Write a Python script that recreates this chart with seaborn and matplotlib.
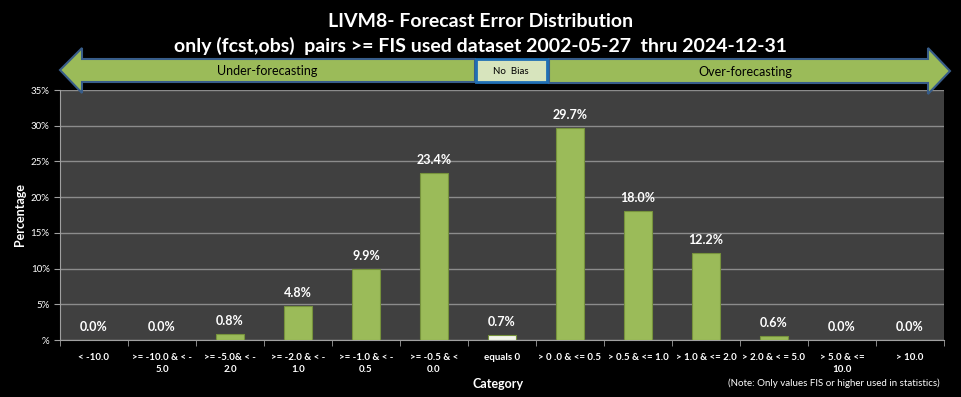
import matplotlib
matplotlib.use('Agg')
import matplotlib.pyplot as plt
import seaborn as sns
import pandas as pd
from matplotlib.patches import Polygon, Rectangle

categories = ['< -10.0', '>= -10.0 & < -\n5.0', '>= -5.0& < -\n2.0', '>= -2.0 & < -\n1.0',
              '>= -1.0 & < -\n0.5', '>= -0.5 & <\n0.0', 'equals 0', '> 0 .0 & <= 0.5',
              '> 0.5 & <= 1.0', '> 1.0 & <= 2.0', '> 2.0 & < = 5.0', '> 5.0 & <=\n10.0', '> 10.0']
percent = [0.0, 0.0, 0.8, 4.8, 9.9, 23.4, 0.7, 29.7, 18.0, 12.2, 0.6, 0.0, 0.0]
title = 'LIVM8- Forecast Error Distribution\nonly (fcst,obs)  pairs >= FIS used dataset 2002-05-27  thru 2024-12-31'

df = pd.DataFrame({'category': categories, 'percent': percent})
colors = ['#9BBB59'] * len(categories)
colors[6] = '#F2F5EA'

sns.set_style('dark')
plt.rcParams['font.family'] = ['Lato', 'DejaVu Sans']

W, H = 961, 397
fig = plt.figure(figsize=(W / 100, H / 100), dpi=100, facecolor='black')
ax = fig.add_axes([60 / W, 1 - 340 / H, 884 / W, 250 / H])
ax.set_facecolor('#404040')

sns.barplot(data=df, x='category', y='percent', hue='category', palette=colors, saturation=1,
            legend=False, width=0.4, ax=ax, edgecolor='#76923C', linewidth=0.8, zorder=3)

for c in ax.containers:
    ax.bar_label(c, labels=[f'{v:.1f}%' for v in c.datavalues], padding=5,
                 color='white', fontsize=9, fontweight='bold')

ax.set_ylim(0, 35)
ax.set_xlim(-0.5, len(categories) - 0.5)
ax.set_yticks(range(0, 36, 5))
ax.set_yticklabels(['%'] + [f'{v}%' for v in range(5, 36, 5)])
ax.yaxis.grid(True, color='#8C8C8C', linewidth=1, zorder=0)
ax.xaxis.grid(False)
ax.tick_params(axis='y', colors='white', labelsize=7, length=4, direction='out', left=True, color='#A0A0A0')
ax.tick_params(axis='x', which='major', colors='white', labelsize=7, length=0, pad=9)
ax.set_xticks([i - 0.5 for i in range(len(categories) + 1)], minor=True)
ax.tick_params(axis='x', which='minor', length=4, color='#A0A0A0', bottom=True)
for t in ax.get_xticklabels():
    t.set_fontweight('bold')
    t.set_linespacing(1.5)
for s in ['top', 'right']:
    ax.spines[s].set_visible(False)
for s in ['left', 'bottom']:
    ax.spines[s].set_color('#A0A0A0')

ax.set_xlabel('Category', color='white', fontsize=9, fontweight='bold')
ax.xaxis.set_label_coords(0.495, -0.15)
ax.set_ylabel('Percentage', color='white', fontsize=9, fontweight='bold')
ax.yaxis.set_label_coords(-0.038, 0.5)

fig.text(0.5, 1 - 34 / H, title, ha='center', va='center', color='white',
         fontsize=14, fontweight='bold', linespacing=1.45)
fig.text(940 / W, 1 - 383 / H, '(Note: Only values FIS or higher used in statistics)',
         ha='right', va='center', color='white', fontsize=7)


def px(pts):
    return [(x / W, 1 - y / H) for x, y in pts]


left_arrow = px([(60, 70), (82, 48), (82, 59), (475, 59), (475, 82), (82, 82), (82, 93)])
right_arrow = px([(549, 59), (928, 59), (928, 48), (950, 71), (928, 94), (928, 83), (549, 83)])
for pts in (left_arrow, right_arrow):
    fig.patches.append(Polygon(pts, closed=True, transform=fig.transFigure,
                               facecolor='#9BBB59', edgecolor='#385D8A', linewidth=1.5))
fig.patches.append(Rectangle((476 / W, 1 - 82 / H), 71 / W, 23 / H, transform=fig.transFigure,
                             facecolor='#D7E4BD', edgecolor='#1F6FB5', linewidth=2))
fig.text(267 / W, 1 - 71 / H, 'Under-forecasting', ha='center', va='center', color='black', fontsize=9)
fig.text(745 / W, 1 - 72 / H, 'Over-forecasting', ha='center', va='center', color='black', fontsize=9)
fig.text(511 / W, 1 - 71 / H, 'No  Bias', ha='center', va='center', color='black', fontsize=7)

fig.savefig('out.png', dpi=100, facecolor='black')
